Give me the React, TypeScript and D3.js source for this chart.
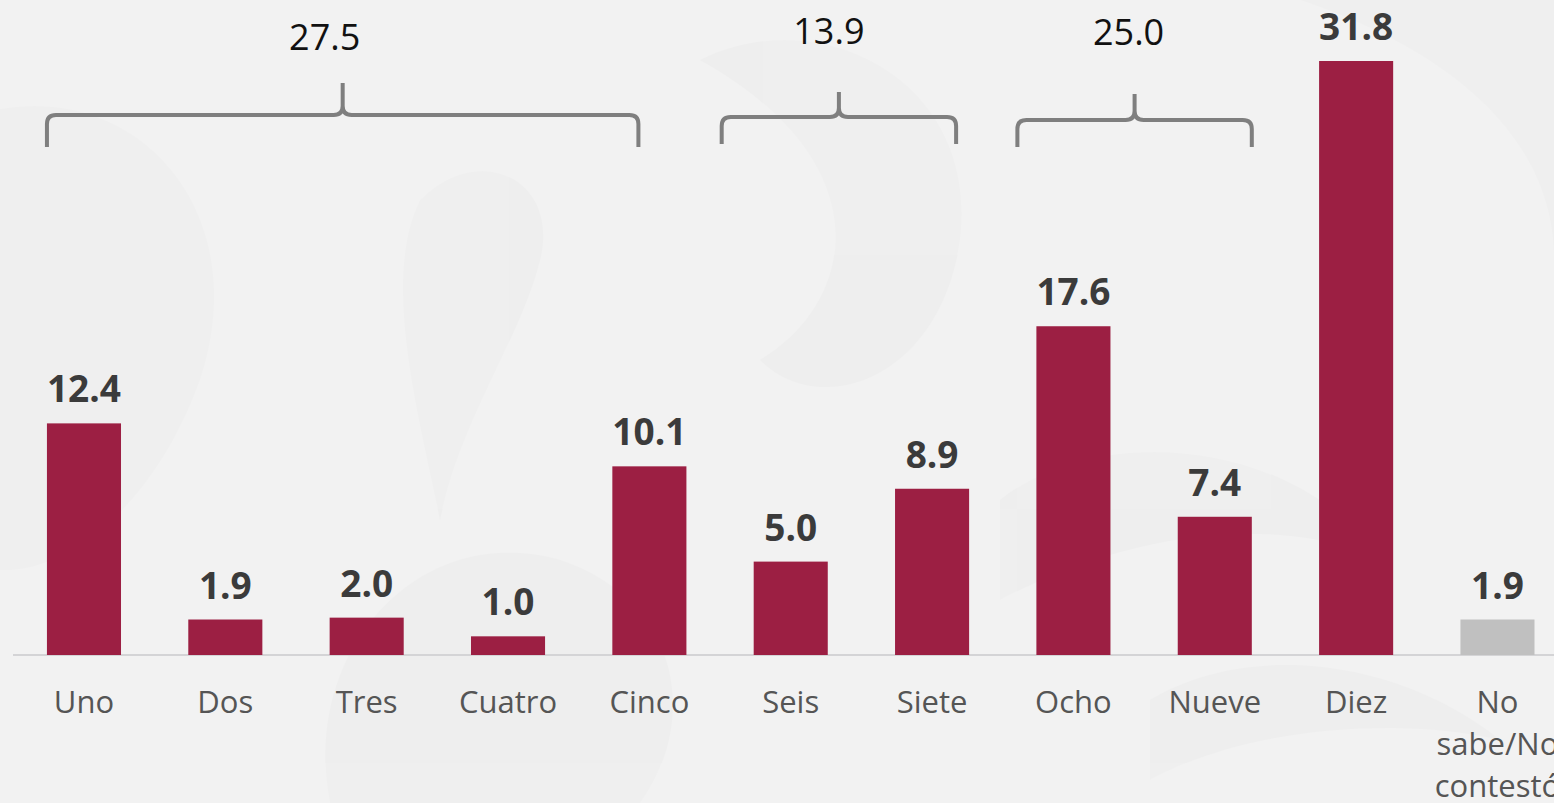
import { scaleBand, scaleLinear } from "d3";

const categories = ["Uno", "Dos", "Tres", "Cuatro", "Cinco", "Seis", "Siete", "Ocho", "Nueve", "Diez", "No sabe/No contestó"];
const values = [12.4, 1.9, 2.0, 1.0, 10.1, 5.0, 8.9, 17.6, 7.4, 31.8, 1.9];
const valueLabels = ["12.4", "1.9", "2.0", "1.0", "10.1", "5.0", "8.9", "17.6", "7.4", "31.8", "1.9"];
const categoryLines = [["Uno"], ["Dos"], ["Tres"], ["Cuatro"], ["Cinco"], ["Seis"], ["Siete"], ["Ocho"], ["Nueve"], ["Diez"], ["No", "sabe/No", "contestó"]];

const groupStart = ["Uno", "Seis", "Ocho"];
const groupEnd = ["Cinco", "Siete", "Nueve"];
const groupTotals = ["27.5", "13.9", "25.0"];

// bracket placement tweaks (px)
const bracketLayout = [
  { dl: 0, dr: -48, y: 115, bottom: 147, top: 83, labelDx: -18, labelY: 50 },
  { dl: -32, dr: -13, y: 117, bottom: 144, top: 92, labelDx: -10, labelY: 44 },
  { dl: -19, dr: 0, y: 120, bottom: 147, top: 94, labelDx: -6, labelY: 45 },
];

const W = 1554;
const H = 803;
const baseY = 655;
const step = 141.35;
const x0 = 13.3;

const FONT = "'Open Sans', 'Noto Sans', sans-serif";

function bracePath(l: number, r: number, y: number, bottom: number, top: number) {
  const c = (l + r) / 2;
  const k = 9;
  return [
    `M${l},${bottom}`,
    `L${l},${y + k}`,
    `Q${l},${y} ${l + k},${y}`,
    `L${c - k},${y}`,
    `Q${c},${y} ${c},${y - k}`,
    `L${c},${top}`,
    `M${c},${y - k}`,
    `Q${c},${y} ${c + k},${y}`,
    `L${r - k},${y}`,
    `Q${r},${y} ${r},${y + k}`,
    `L${r},${bottom}`,
  ].join(" ");
}

export default function App() {
  const x = scaleBand<string>()
    .domain(categories)
    .range([x0, x0 + categories.length * step])
    .paddingInner(0.476)
    .paddingOuter(0.238);

  const y = scaleLinear().domain([0, 31.8]).range([baseY, 61]);
  const bw = x.bandwidth();

  return (
    <svg
      width={W}
      height={H}
      style={{ position: "absolute", left: 0, top: 0, background: "#f2f2f2" }}
    >
      {/* faint decorative swirls in the background */}
      <g fill="#000" opacity={0.012}>
        <path d="M-40,120 C120,60 260,200 200,380 C150,520 40,600 -40,560 Z" />
        <path d="M330,803 C300,650 420,520 560,560 C680,600 700,720 640,803 Z" />
        <path d="M700,60 C820,0 980,80 960,240 C940,380 820,420 760,360 C860,300 880,160 700,60 Z" />
        <path d="M1000,500 C1100,420 1300,440 1380,560 C1300,520 1150,520 1000,600 Z" />
        <path d="M1300,0 C1420,40 1554,120 1554,260 L1554,0 Z" />
        <path d="M420,200 C480,140 560,180 540,260 C520,340 460,420 440,520 C420,420 380,280 420,200 Z" />
        <path d="M1150,700 C1250,640 1400,660 1500,740 C1420,720 1260,720 1150,780 Z" />
      </g>

      {/* baseline */}
      <line x1={13} x2={W + 20} y1={baseY} y2={baseY} stroke="#d4d4d6" strokeWidth={2} />

      {/* bars */}
      {categories.map((c, i) => (
        <rect
          key={c}
          x={x(c)}
          y={y(values[i])}
          width={bw}
          height={baseY - y(values[i])}
          fill={i === categories.length - 1 ? "#c0c0c0" : "#9c1f43"}
        />
      ))}

      {/* value labels */}
      {categories.map((c, i) => (
        <text
          key={c}
          x={(x(c) ?? 0) + bw / 2}
          y={y(values[i]) - 21}
          textAnchor="middle"
          fontFamily={FONT}
          fontWeight={700}
          fontSize={37}
          fill="#3b3b3b"
        >
          {valueLabels[i]}
        </text>
      ))}

      {/* category labels */}
      {categories.map((c, i) => (
        <text
          key={c}
          x={(x(c) ?? 0) + bw / 2}
          y={713}
          textAnchor="middle"
          fontFamily={FONT}
          fontSize={31}
          fill="#555555"
        >
          {categoryLines[i].map((ln, j) => (
            <tspan key={j} x={(x(c) ?? 0) + bw / 2} dy={j === 0 ? 0 : 42}>
              {ln}
            </tspan>
          ))}
        </text>
      ))}

      {/* group brackets */}
      {groupStart.map((s, i) => {
        const b = bracketLayout[i];
        const l = (x(s) ?? 0) + b.dl;
        const r = (x(groupEnd[i]) ?? 0) + bw + b.dr;
        return (
          <g key={s}>
            <path
              d={bracePath(l, r, b.y, b.bottom, b.top)}
              fill="none"
              stroke="#7f7f7f"
              strokeWidth={4}
            />
            <text
              x={(l + r) / 2 + b.labelDx}
              y={b.labelY}
              textAnchor="middle"
              fontFamily={FONT}
              fontSize={36}
              fill="#111"
            >
              {groupTotals[i]}
            </text>
          </g>
        );
      })}
    </svg>
  );
}
